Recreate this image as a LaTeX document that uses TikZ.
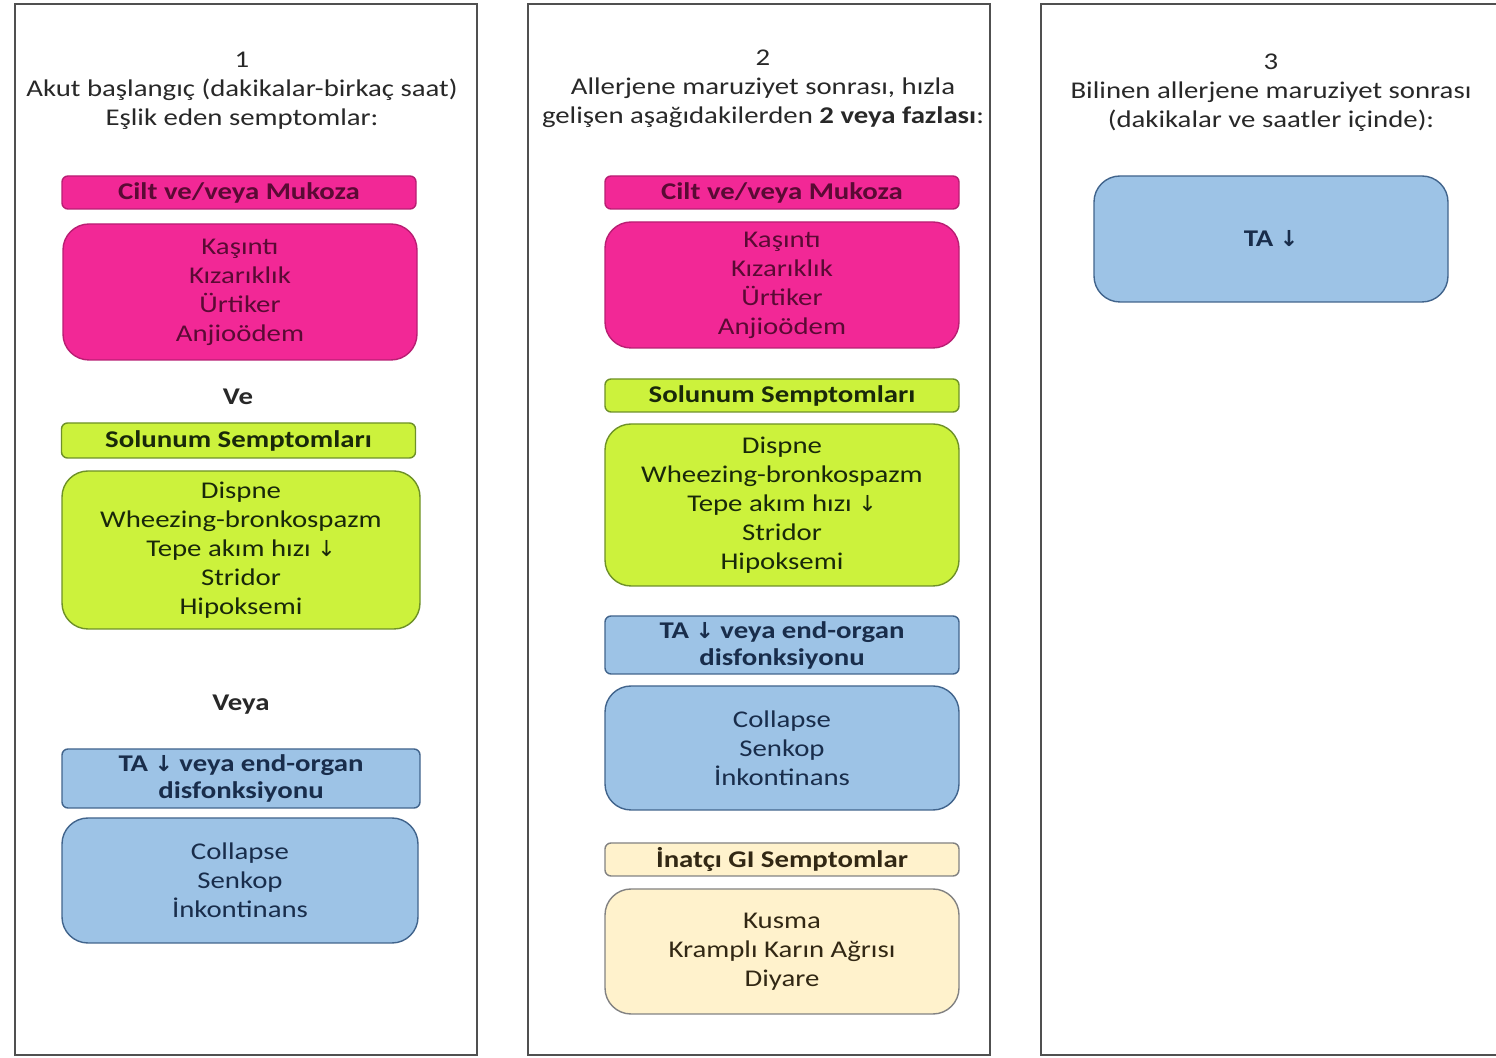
\documentclass[tikz,border=0pt]{standalone}
\usepackage{fontspec}
\setmainfont{Carlito}[FakeStretch=1.2]
\newfontfamily\arrowfont{DejaVu Sans}
\newcommand\basefont{\fontsize{12}{14.5}\selectfont}
\newcommand\dn{{\arrowfont\fontsize{11}{14.5}\selectfont ↓}}

\definecolor{panelgray}{RGB}{80,80,80}
\definecolor{titlegray}{RGB}{40,40,40}
\definecolor{pinkfill}{RGB}{242,40,150}
\definecolor{pinkline}{RGB}{185,30,115}
\definecolor{pinktext}{RGB}{90,10,52}
\definecolor{greenfill}{RGB}{204,242,60}
\definecolor{greenline}{RGB}{110,145,40}
\definecolor{greentext}{RGB}{25,40,10}
\definecolor{bluefill}{RGB}{157,195,230}
\definecolor{blueline}{RGB}{65,100,140}
\definecolor{bluetext}{RGB}{25,45,75}
\definecolor{tanfill}{RGB}{255,242,204}
\definecolor{tanline}{RGB}{130,130,130}
\definecolor{tantext}{RGB}{50,40,20}

\tikzset{
  panel/.style={draw=panelgray, line width=1pt},
  title/.style={align=center, text=titlegray, inner sep=0pt, font=\basefont},
  joiner/.style={font=\basefont\bfseries, text=titlegray, inner sep=0pt},
  head/.style={draw=#1line, fill=#1fill, text=#1text, line width=0.7pt,
    rounded corners=3pt, inner sep=0pt, align=center, font=\basefont\bfseries,
    minimum width=177pt, minimum height=16.5pt},
  body/.style={draw=#1line, fill=#1fill, text=#1text, line width=0.7pt,
    rounded corners=13pt, inner sep=0pt, align=center, font=\basefont,
    minimum width=177pt}
}

\begin{document}
\begin{tikzpicture}[x=0.5pt,y=-0.5pt]
  \useasboundingbox (0,0) rectangle (1496,1058);

  %% panels
  \draw[panel] (15,4) rectangle (477,1055);
  \draw[panel] (528,4) rectangle (990,1055);
  \draw[panel] (1496,4) -- (1041,4) -- (1041,1055) -- (1496,1055);

  %% panel 1
  \node[title] (title1) at (242,91) {1\\Akut başlangıç (dakikalar-birkaç saat)\\Eşlik eden semptomlar:};
  \node[head=pink] (skinhead1) at (239,192.5) {Cilt ve/veya Mukoza};
  \node[body=pink, minimum height=68pt] (skin1) at (240,292)
    {Kaşıntı\\Kızarıklık\\Ürtiker\\Anjioödem};
  \node[joiner] (and1) at (238,397) {Ve};
  \node[head=green, minimum height=17.5pt] (resphead1) at (238.5,440.5) {Solunum Semptomları};
  \node[body=green, minimum width=179pt, minimum height=79pt] (resp1) at (241,550)
    {Dispne\\Wheezing-bronkospazm\\Tepe akım hızı \dn\\Stridor\\Hipoksemi};
  \node[joiner] (or1) at (241,705) {Veya};
  \node[head=blue, minimum width=179pt, minimum height=29.5pt] (bphead1) at (241,778.5)
    {TA \dn{} veya end-organ\\[-1pt]disfonksiyonu};
  \node[body=blue, minimum width=178pt, minimum height=62.5pt] (bp1) at (240,880.5)
    {Collapse\\Senkop\\İnkontinans};

  %% panel 2
  \node[title] (title2) at (763,89) {2\\Allerjene maruziyet sonrası, hızla\\gelişen aşağıdakilerden \textbf{2 veya fazlası}:};
  \node[head=pink] (skinhead2) at (782,192.5) {Cilt ve/veya Mukoza};
  \node[body=pink, minimum height=63pt] (skin2) at (782,285)
    {Kaşıntı\\Kızarıklık\\Ürtiker\\Anjioödem};
  \node[head=green] (resphead2) at (782,395.5) {Solunum Semptomları};
  \node[body=green, minimum height=81pt] (resp2) at (782,505)
    {Dispne\\Wheezing-bronkospazm\\Tepe akım hızı \dn\\Stridor\\Hipoksemi};
  \node[head=blue, minimum height=29pt] (bphead2) at (782,645)
    {TA \dn{} veya end-organ\\[-1pt]disfonksiyonu};
  \node[body=blue, minimum height=62pt] (bp2) at (782,748)
    {Collapse\\Senkop\\İnkontinans};
  \node[head=tan] (gihead2) at (782,859.5) {İnatçı GI Semptomlar};
  \node[body=tan, minimum height=62.5pt] (gi2) at (782,951.5)
    {Kusma\\Kramplı Karın Ağrısı\\Diyare};

  %% panel 3
  \node[title] (title3) at (1271,93) {3\\Bilinen allerjene maruziyet sonrası\\(dakikalar ve saatler içinde):};
  \node[body=blue, minimum height=63pt, font=\basefont\bfseries] (bp3) at (1271,239) {TA \dn};
\end{tikzpicture}
\end{document}
